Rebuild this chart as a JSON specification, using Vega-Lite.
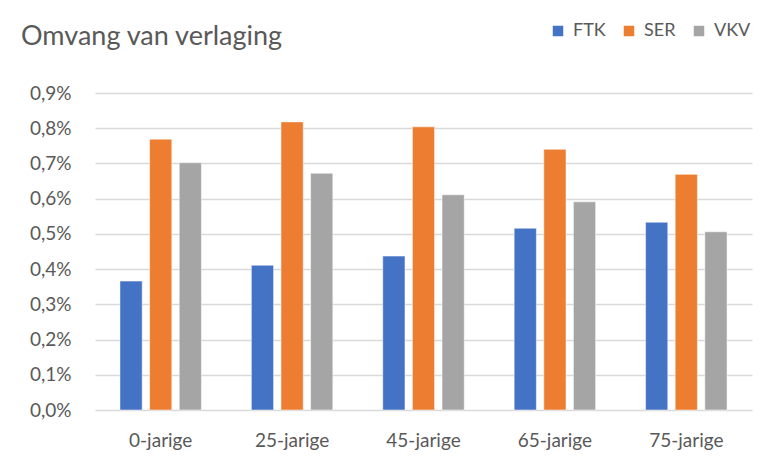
{
  "$schema": "https://vega.github.io/schema/vega-lite/v6.json",
  "width": 657,
  "height": 317,
  "autosize": {"type": "none"},
  "padding": {"left": 95, "top": 93, "right": 19, "bottom": 53},
  "background": "white",
  "title": {
    "text": "Omvang van verlaging",
    "anchor": "start",
    "frame": "group",
    "dx": -74,
    "offset": 0,
    "dy": 50,
    "baseline": "alphabetic",
    "fontSize": 27,
    "font": "Lato",
    "fontWeight": "normal",
    "color": "#595959"
  },
  "data": {
    "values": [
      {"leeftijd": "0-jarige", "methode": "FTK", "waarde": 0.00366},
      {"leeftijd": "0-jarige", "methode": "SER", "waarde": 0.00769},
      {"leeftijd": "0-jarige", "methode": "VKV", "waarde": 0.00702},
      {"leeftijd": "25-jarige", "methode": "FTK", "waarde": 0.00411},
      {"leeftijd": "25-jarige", "methode": "SER", "waarde": 0.00818},
      {"leeftijd": "25-jarige", "methode": "VKV", "waarde": 0.00672},
      {"leeftijd": "45-jarige", "methode": "FTK", "waarde": 0.00437},
      {"leeftijd": "45-jarige", "methode": "SER", "waarde": 0.00804},
      {"leeftijd": "45-jarige", "methode": "VKV", "waarde": 0.00611},
      {"leeftijd": "65-jarige", "methode": "FTK", "waarde": 0.00516},
      {"leeftijd": "65-jarige", "methode": "SER", "waarde": 0.0074},
      {"leeftijd": "65-jarige", "methode": "VKV", "waarde": 0.00591},
      {"leeftijd": "75-jarige", "methode": "FTK", "waarde": 0.00533},
      {"leeftijd": "75-jarige", "methode": "SER", "waarde": 0.00669},
      {"leeftijd": "75-jarige", "methode": "VKV", "waarde": 0.00506}
    ]
  },
  "mark": {"type": "bar", "stroke": "white", "strokeWidth": 0.5},
  "encoding": {
    "x": {
      "field": "leeftijd",
      "type": "nominal",
      "sort": null,
      "scale": {"paddingInner": 0.38, "paddingOuter": 0.19},
      "axis": {
        "title": null,
        "labelAngle": 0,
        "domain": false,
        "ticks": false,
        "labelPadding": 21,
        "labelFontSize": 19,
        "labelFont": "Lato",
        "labelColor": "#595959"
      }
    },
    "xOffset": {
      "field": "methode",
      "type": "nominal",
      "scale": {"paddingInner": 0.25}
    },
    "y": {
      "field": "waarde",
      "type": "quantitative",
      "scale": {"domain": [0, 0.009], "nice": false},
      "axis": {
        "title": null,
        "format": ".1%",
        "values": [0, 0.001, 0.002, 0.003, 0.004, 0.005, 0.006, 0.007, 0.008, 0.009],
        "domain": false,
        "ticks": false,
        "labelPadding": 24,
        "labelFontSize": 19,
        "labelFont": "Lato",
        "labelColor": "#595959",
        "gridColor": "#D9D9D9",
        "gridWidth": 1.5
      }
    },
    "color": {
      "field": "methode",
      "type": "nominal",
      "scale": {"domain": ["FTK", "SER", "VKV"], "range": ["#4472C4", "#ED7D31", "#A5A5A5"]},
      "legend": {
        "title": null,
        "orient": "none",
        "direction": "horizontal",
        "legendX": 454,
        "legendY": -71,
        "symbolType": "square",
        "symbolSize": 110,
        "symbolStrokeWidth": 0,
        "labelFontSize": 18,
        "labelFont": "Lato",
        "labelColor": "#595959",
        "columnPadding": 14,
        "labelOffset": 6
      }
    }
  },
  "config": {
    "view": {"stroke": null},
    "locale": {
      "number": {"decimal": ",", "thousands": ".", "grouping": [3], "currency": ["€", ""]}
    }
  }
}
